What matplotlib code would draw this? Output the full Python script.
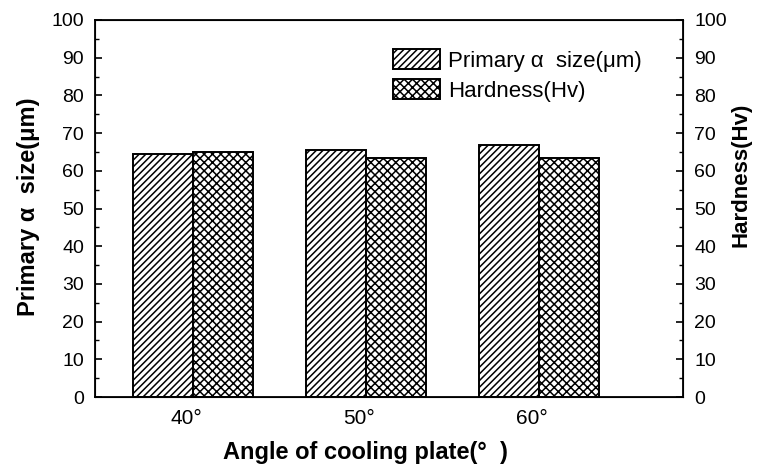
import numpy as np
import matplotlib
matplotlib.use('Agg')
import matplotlib.pyplot as plt
import matplotlib.transforms as mtransforms

# data
angles = ['40°', '50°', '60°']
primary_size = [64.5, 65.5, 66.8]
hardness = [65.0, 63.5, 63.3]

plt.rcParams['font.family'] = ['Liberation Sans', 'DejaVu Sans']
plt.rcParams['hatch.linewidth'] = 1.1

fig = plt.figure(figsize=(7.66, 4.74), dpi=100)
ax = fig.add_axes([95 / 766, 1 - 397 / 474, 588 / 766, 377 / 474])

x = np.arange(len(angles))
w = 0.345
ax.bar(x - w / 2, primary_size, w, color='white', edgecolor='black', hatch='/////',
       linewidth=1.4, label='Primary α  size(μm)')
ax.bar(x + w / 2, hardness, w, color='white', edgecolor='black', hatch='xxxx',
       linewidth=1.4, label='Hardness(Hv)')

for s in ax.spines.values():
    s.set_linewidth(1.3)

ax.set_xlim(-0.566, 2.832)
ax.set_ylim(0, 100)
ax.set_xticks(x)
ax.set_xticklabels(angles, fontsize=15)
ax.tick_params(axis='x', length=0, pad=9)
# labels sit a bit left of the bar joins
shift = mtransforms.ScaledTranslation(-7 / 100, 0, fig.dpi_scale_trans)
for lab in ax.get_xticklabels():
    lab.set_transform(lab.get_transform() + shift)

ax.set_yticks(np.arange(0, 101, 10))
ax.set_yticks(np.arange(5, 100, 10), minor=True)
ax.tick_params(axis='y', which='major', direction='in', length=5, width=1.2, labelsize=14, pad=8)
ax.tick_params(axis='y', which='minor', direction='in', length=3, width=1.0)
ax.set_ylabel('Primary α  size(μm)', fontsize=17, fontweight='bold')
ax.yaxis.set_label_coords(-0.094, 0.505)
ax.set_xlabel('Angle of cooling plate(°  )', fontsize=17, fontweight='bold')
ax.xaxis.set_label_coords(0.46, -0.117)

ax2 = ax.twinx()
ax2.set_ylim(0, 100)
ax2.set_yticks(np.arange(0, 101, 10))
ax2.set_yticks(np.arange(5, 100, 10), minor=True)
ax2.tick_params(axis='y', which='major', direction='in', length=5, width=1.2, labelsize=14, pad=8)
ax2.tick_params(axis='y', which='minor', direction='in', length=3, width=1.0)
ax2.set_ylabel('Hardness(Hv)', fontsize=16, fontweight='bold')
ax2.yaxis.set_label_coords(1.08, 0.59)

ax.legend(loc='upper left', bbox_to_anchor=(0.472, 0.975), frameon=False, fontsize=16,
          handlelength=2.15, handleheight=0.95, handletextpad=0.35, labelspacing=0.35)

fig.savefig('out.png', dpi=100)
